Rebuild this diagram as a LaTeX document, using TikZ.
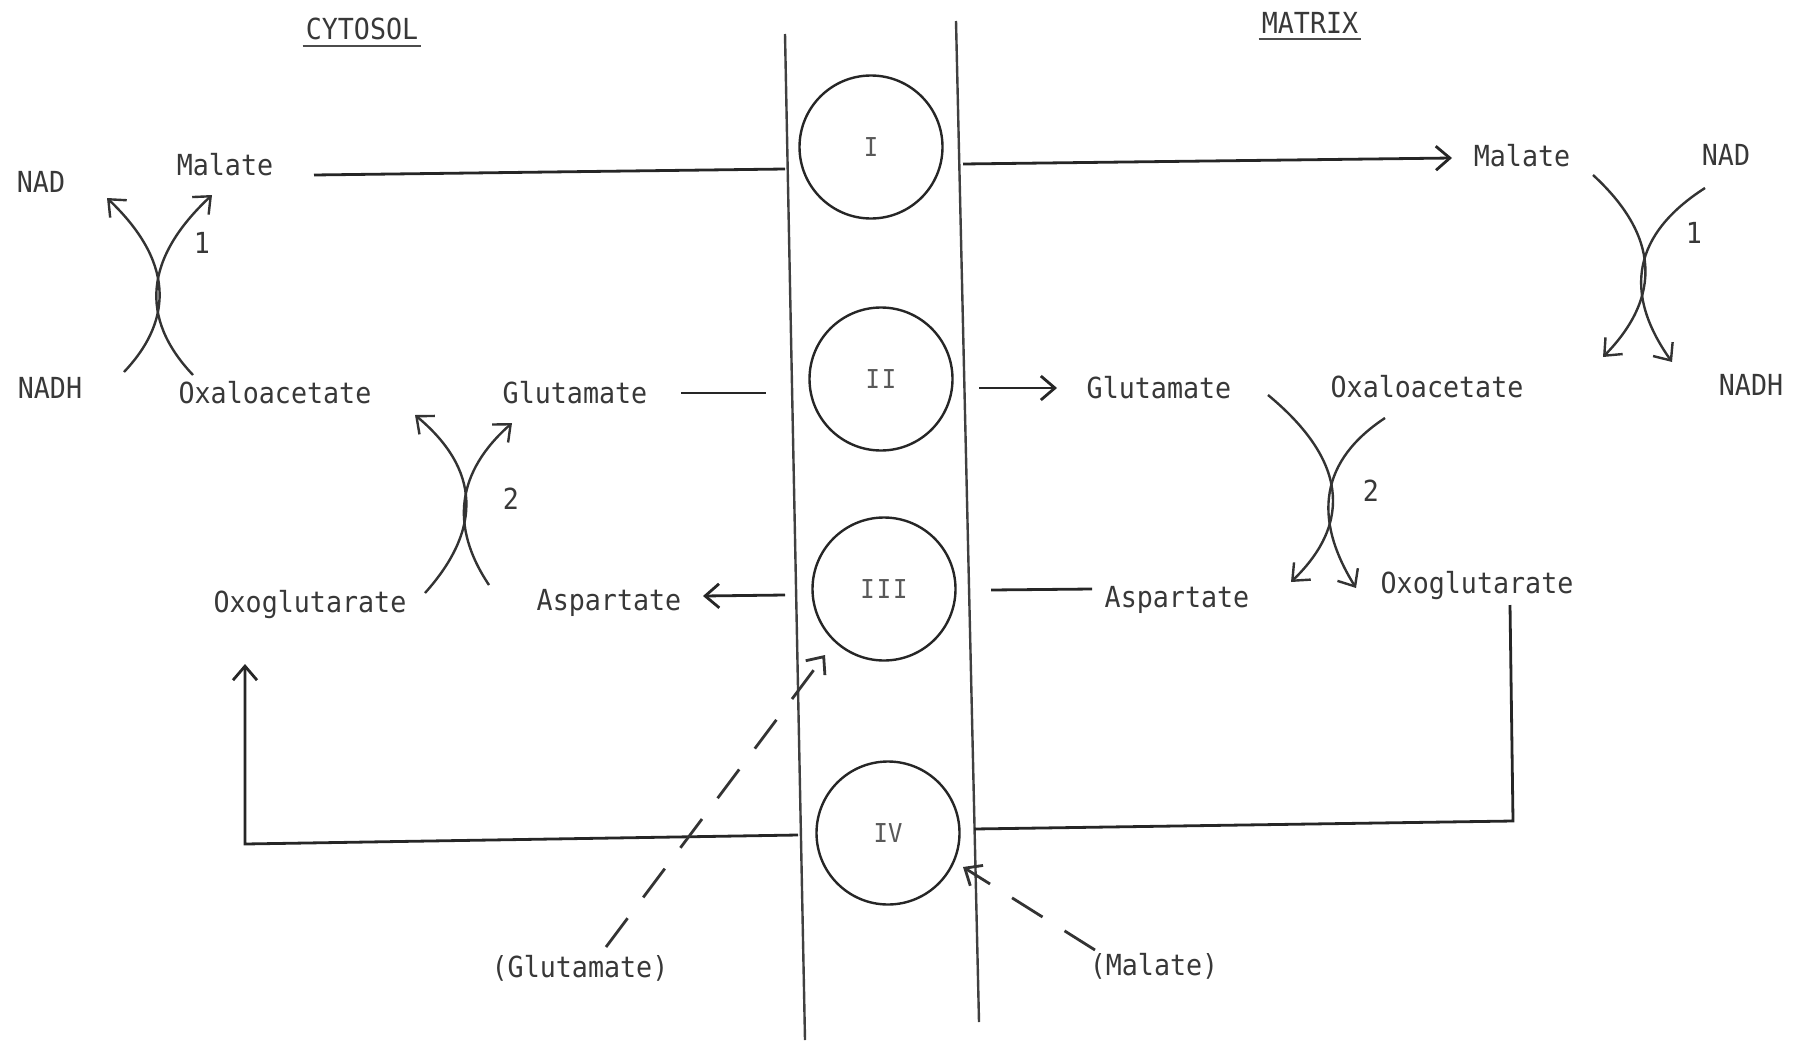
\documentclass[tikz,border=0pt]{standalone}
\usepackage{fontspec}
\setmainfont{DejaVu Sans Mono}[FakeStretch=0.92]
\usetikzlibrary{arrows.meta}
\begin{document}
\begin{tikzpicture}[x=1pt,y=-1pt,
  lbl/.style={text=black!78, font=\fontsize{29}{32}\selectfont, inner sep=0pt, anchor=base},
  ln/.style={draw=black!85, line width=2.8pt},
  crv/.style={draw=black!80, line width=2.4pt},
  mem/.style={draw=black!75, line width=2.4pt},
  tip/.style={-{Straight Barb[length=14pt,width=24pt]}},
  dsh/.style={draw=black!80, line width=2.8pt, dash pattern=on 36pt off 26pt},
  carrier/.style={circle, draw=black!85, line width=2.4pt, minimum size=143pt, inner sep=0pt,
    text=black!65, font=\fontsize{26}{30}\selectfont}]
\useasboundingbox (0,0) rectangle (1801,1041);

% membranes
\coordinate (m1t) at (785,34);  \coordinate (m1b) at (805,1040);
\coordinate (m2t) at (956,21);  \coordinate (m2b) at (979,1022);
\draw[mem] (m1t) -- (m1b);
\draw[mem] (m2t) -- (m2b);

% carriers
\node[carrier] (cI)   at (871,147) {I};
\node[carrier] (cII)  at (881,379) {I\hspace{2pt}I};
\node[carrier] (cIII) at (884,589) {I\hspace{2pt}I\hspace{2pt}I};
\node[carrier] (cIV)  at (888,833) {IV};

% headings
\node[lbl] (cyt) at (362,39.5) {CYTOSOL};
\draw[draw=black!70, line width=1.6pt] ([xshift=-3pt,yshift=-6.5pt]cyt.base west) -- ([xshift=3pt,yshift=-6.5pt]cyt.base east);
\node[lbl] (mat) at (1310,33.5) {MATRIX};
\draw[draw=black!70, line width=1.6pt] ([xshift=-3pt,yshift=-5.5pt]mat.base west) -- ([xshift=3pt,yshift=-5.5pt]mat.base east);

% cytosol labels
\node[lbl] (nadL)  at (41,192)  {NAD};
\node[lbl] (malL)  at (225,175) {Malate};
\node[lbl] (nadhL) at (50,398)  {NADH};
\node[lbl] (oaaL)  at (275,403) {Oxaloacetate};
\node[lbl] (e1L)   at (202,253) {1};
\node[lbl] (gluL)  at (575,403) {Glutamate};
\node[lbl] (e2L)   at (511,509) {2};
\node[lbl] (ogL)   at (310,612) {Oxoglutarate};
\node[lbl] (aspL)  at (609,610) {Aspartate};

% matrix labels
\node[lbl] (malR)  at (1522,166) {Malate};
\node[lbl] (nadR)  at (1726,165) {NAD};
\node[lbl] (e1R)   at (1694,243) {1};
\node[lbl] (nadhR) at (1751,395) {NADH};
\node[lbl] (gluR)  at (1159,398) {Glutamate};
\node[lbl] (oaaR)  at (1427,397) {Oxaloacetate};
\node[lbl] (e2R)   at (1371,501) {2};
\node[lbl] (aspR)  at (1177,607) {Aspartate};
\node[lbl] (ogR)   at (1477,593) {Oxoglutarate};

% lower labels
\node[lbl] (gluD) at (580,977) {(Glutamate)};
\node[lbl] (malD) at (1154,975) {(Malate)};

% malate transport (carrier I)
\coordinate (a1) at (314,175); \coordinate (a2) at (785,169);
\coordinate (a3) at (963,164); \coordinate (a4) at (1452,158);
\draw[ln] (a1) -- (a2);
\draw[ln,tip] (a3) -- (a4);

% glutamate transport (carrier II)
\coordinate (b1) at (681,393); \coordinate (b2) at (766,393);
\coordinate (b3) at (979,388); \coordinate (b4) at (1057,388);
\draw[ln] (b1) -- (b2);
\draw[ln,tip] (b3) -- (b4);

% aspartate transport (carrier III)
\coordinate (c1) at (785,595); \coordinate (c2) at (703,596);
\coordinate (c3) at (991,590); \coordinate (c4) at (1092,589);
\draw[ln,tip] (c1) -- (c2);
\draw[ln] (c3) -- (c4);

% oxoglutarate transport (carrier IV)
\coordinate (d1) at (1510,605); \coordinate (d2) at (1513,821); \coordinate (d3) at (974,829);
\coordinate (d4) at (798,835); \coordinate (d5) at (245,844); \coordinate (d6) at (245,664);
\draw[ln] (d1) -- (d2) -- (d3);
\draw[ln,tip] (d4) -- (d5) -- (d6);

% dashed exchanges
\coordinate (g1) at (606,947); \coordinate (g2) at (825,655);
\draw[dsh,tip] (g1) -- (g2);
\coordinate (h1) at (1095,950); \coordinate (h2) at (963,867);
\draw[dsh,tip] (h1) -- (h2);

% reaction 1, cytosol
\coordinate (p1a) at (124,372); \coordinate (p1b) at (107,198);
\coordinate (p2a) at (193,375); \coordinate (p2b) at (212,195);
\draw[crv,tip] (p1a) .. controls (176.3,316.7) and (170.7,258.7) .. (p1b);
\draw[crv,tip] (p2a) .. controls (138.7,317.7) and (145,257.7) .. (p2b);

% reaction 2, cytosol
\coordinate (q1a) at (425,593); \coordinate (q1b) at (415,415);
\coordinate (q2a) at (489,585); \coordinate (q2b) at (512,423);
\draw[crv,tip] (q1a) .. controls (483,528.3) and (479.7,469) .. (q1b);
\draw[crv,tip] (q2a) .. controls (449.3,525.7) and (457,471.7) .. (q2b);

% reaction 1, matrix
\coordinate (s1a) at (1593,175); \coordinate (s1b) at (1603,357);
\coordinate (s2a) at (1705,188); \coordinate (s2b) at (1672,362);
\draw[crv,tip] (s1a) .. controls (1659,235.7) and (1662.3,296.3) .. (s1b);
\draw[crv,tip] (s2a) .. controls (1633.3,234) and (1622.3,292) .. (s2b);

% reaction 2, matrix
\coordinate (t1a) at (1268,395); \coordinate (t1b) at (1291,582);
\coordinate (t2a) at (1385,418); \coordinate (t2b) at (1356,588);
\draw[crv,tip] (t1a) .. controls (1345.7,459.3) and (1353.3,521.7) .. (t1b);
\draw[crv,tip] (t2a) .. controls (1321.3,460) and (1311.7,516.7) .. (t2b);
\end{tikzpicture}
\end{document}
